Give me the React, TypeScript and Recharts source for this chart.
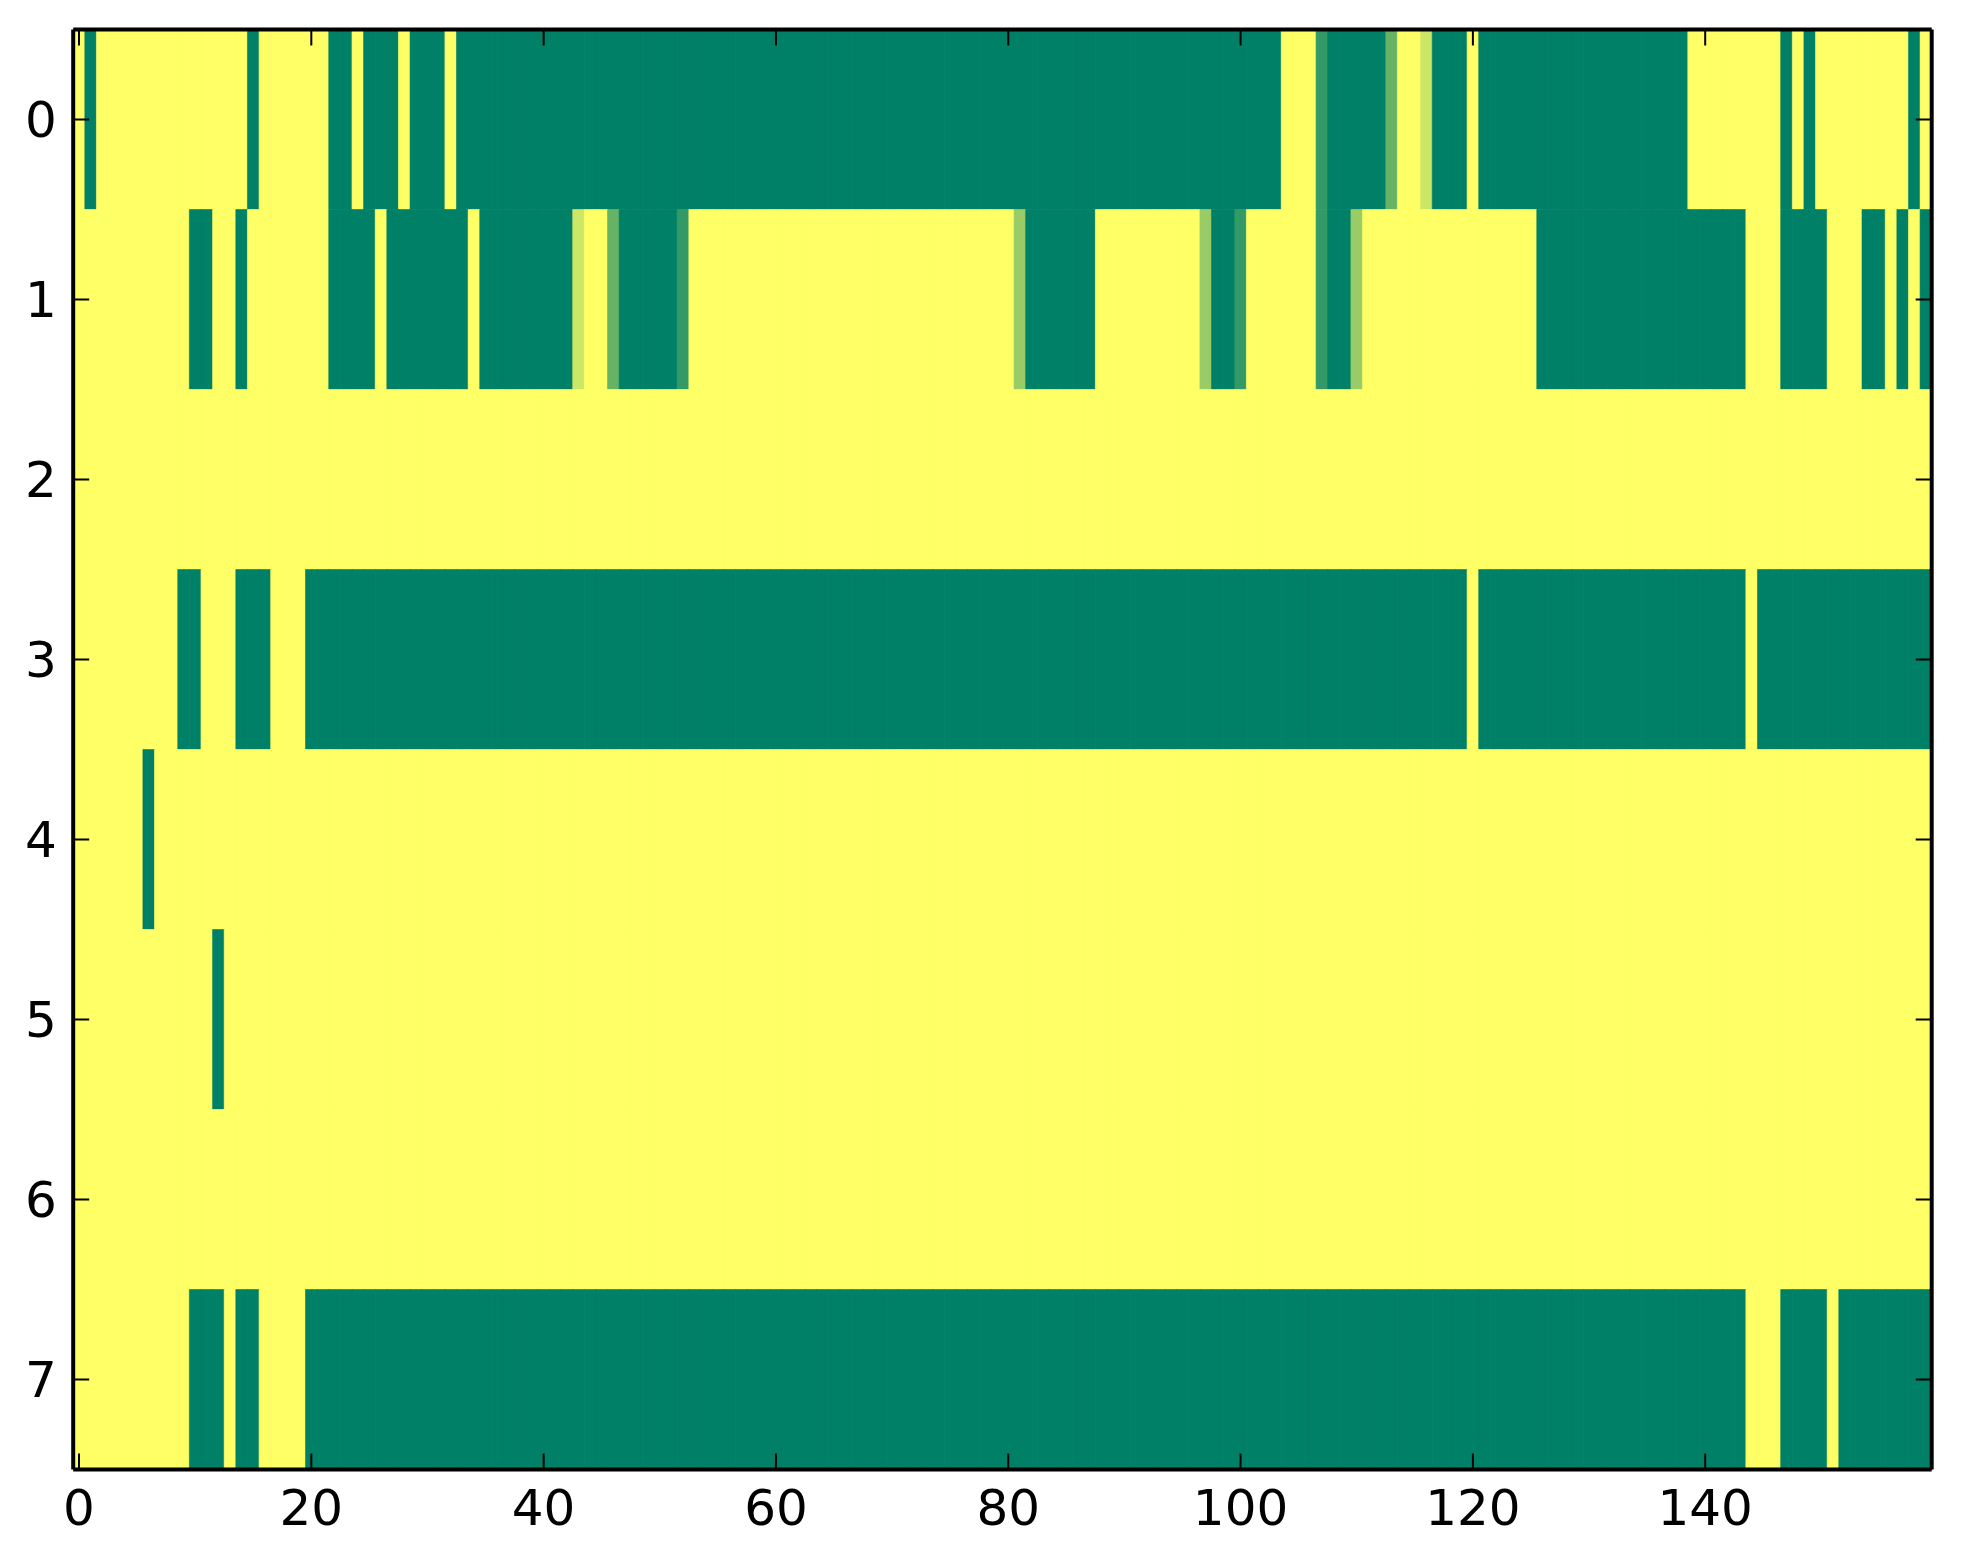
import { BarChart, Bar, XAxis, YAxis, Cell } from "recharts";

// one value per column, 0 = green end of the colormap, 1 = yellow end
const row0 = [
  1, 0, 1, 1, 1, 1, 1, 1, 1, 1, 1, 1, 1, 1, 1, 0, 1, 1, 1, 1,
  1, 1, 0, 0, 1, 0, 0, 0, 1, 0, 0, 0, 1, 0, 0, 0, 0, 0, 0, 0,
  0, 0, 0, 0, 0, 0, 0, 0, 0, 0, 0, 0, 0, 0, 0, 0, 0, 0, 0, 0,
  0, 0, 0, 0, 0, 0, 0, 0, 0, 0, 0, 0, 0, 0, 0, 0, 0, 0, 0, 0,
  0, 0, 0, 0, 0, 0, 0, 0, 0, 0, 0, 0, 0, 0, 0, 0, 0, 0, 0, 0,
  0, 0, 0, 0, 1, 1, 1, 0.2, 0, 0, 0, 0, 0, 0.4, 1, 1, 0.8, 0, 0, 0,
  1, 0, 0, 0, 0, 0, 0, 0, 0, 0, 0, 0, 0, 0, 0, 0, 0, 0, 0, 1,
  1, 1, 1, 1, 1, 1, 1, 0, 1, 0, 1, 1, 1, 1, 1, 1, 1, 1, 0, 1,
];
const row1 = [
  1, 1, 1, 1, 1, 1, 1, 1, 1, 1, 0, 0, 1, 1, 0, 1, 1, 1, 1, 1,
  1, 1, 0, 0, 0, 0, 1, 0, 0, 0, 0, 0, 0, 0, 1, 0, 0, 0, 0, 0,
  0, 0, 0, 0.8, 1, 1, 0.4, 0, 0, 0, 0, 0, 0.2, 1, 1, 1, 1, 1, 1, 1,
  1, 1, 1, 1, 1, 1, 1, 1, 1, 1, 1, 1, 1, 1, 1, 1, 1, 1, 1, 1,
  1, 0.6, 0, 0, 0, 0, 0, 0, 1, 1, 1, 1, 1, 1, 1, 1, 1, 0.6, 0, 0,
  0.2, 1, 1, 1, 1, 1, 1, 0.2, 0, 0, 0.6, 1, 1, 1, 1, 1, 1, 1, 1, 1,
  1, 1, 1, 1, 1, 1, 0, 0, 0, 0, 0, 0, 0, 0, 0, 0, 0, 0, 0, 0,
  0, 0, 0, 0, 1, 1, 1, 0, 0, 0, 0, 1, 1, 1, 0, 0, 1, 0, 1, 0,
];
const row2 = [
  1, 1, 1, 1, 1, 1, 1, 1, 1, 1, 1, 1, 1, 1, 1, 1, 1, 1, 1, 1,
  1, 1, 1, 1, 1, 1, 1, 1, 1, 1, 1, 1, 1, 1, 1, 1, 1, 1, 1, 1,
  1, 1, 1, 1, 1, 1, 1, 1, 1, 1, 1, 1, 1, 1, 1, 1, 1, 1, 1, 1,
  1, 1, 1, 1, 1, 1, 1, 1, 1, 1, 1, 1, 1, 1, 1, 1, 1, 1, 1, 1,
  1, 1, 1, 1, 1, 1, 1, 1, 1, 1, 1, 1, 1, 1, 1, 1, 1, 1, 1, 1,
  1, 1, 1, 1, 1, 1, 1, 1, 1, 1, 1, 1, 1, 1, 1, 1, 1, 1, 1, 1,
  1, 1, 1, 1, 1, 1, 1, 1, 1, 1, 1, 1, 1, 1, 1, 1, 1, 1, 1, 1,
  1, 1, 1, 1, 1, 1, 1, 1, 1, 1, 1, 1, 1, 1, 1, 1, 1, 1, 1, 1,
];
const row3 = [
  1, 1, 1, 1, 1, 1, 1, 1, 1, 0, 0, 1, 1, 1, 0, 0, 0, 1, 1, 1,
  0, 0, 0, 0, 0, 0, 0, 0, 0, 0, 0, 0, 0, 0, 0, 0, 0, 0, 0, 0,
  0, 0, 0, 0, 0, 0, 0, 0, 0, 0, 0, 0, 0, 0, 0, 0, 0, 0, 0, 0,
  0, 0, 0, 0, 0, 0, 0, 0, 0, 0, 0, 0, 0, 0, 0, 0, 0, 0, 0, 0,
  0, 0, 0, 0, 0, 0, 0, 0, 0, 0, 0, 0, 0, 0, 0, 0, 0, 0, 0, 0,
  0, 0, 0, 0, 0, 0, 0, 0, 0, 0, 0, 0, 0, 0, 0, 0, 0, 0, 0, 0,
  1, 0, 0, 0, 0, 0, 0, 0, 0, 0, 0, 0, 0, 0, 0, 0, 0, 0, 0, 0,
  0, 0, 0, 0, 1, 0, 0, 0, 0, 0, 0, 0, 0, 0, 0, 0, 0, 0, 0, 0,
];
const row4 = [
  1, 1, 1, 1, 1, 1, 0, 1, 1, 1, 1, 1, 1, 1, 1, 1, 1, 1, 1, 1,
  1, 1, 1, 1, 1, 1, 1, 1, 1, 1, 1, 1, 1, 1, 1, 1, 1, 1, 1, 1,
  1, 1, 1, 1, 1, 1, 1, 1, 1, 1, 1, 1, 1, 1, 1, 1, 1, 1, 1, 1,
  1, 1, 1, 1, 1, 1, 1, 1, 1, 1, 1, 1, 1, 1, 1, 1, 1, 1, 1, 1,
  1, 1, 1, 1, 1, 1, 1, 1, 1, 1, 1, 1, 1, 1, 1, 1, 1, 1, 1, 1,
  1, 1, 1, 1, 1, 1, 1, 1, 1, 1, 1, 1, 1, 1, 1, 1, 1, 1, 1, 1,
  1, 1, 1, 1, 1, 1, 1, 1, 1, 1, 1, 1, 1, 1, 1, 1, 1, 1, 1, 1,
  1, 1, 1, 1, 1, 1, 1, 1, 1, 1, 1, 1, 1, 1, 1, 1, 1, 1, 1, 1,
];
const row5 = [
  1, 1, 1, 1, 1, 1, 1, 1, 1, 1, 1, 1, 0, 1, 1, 1, 1, 1, 1, 1,
  1, 1, 1, 1, 1, 1, 1, 1, 1, 1, 1, 1, 1, 1, 1, 1, 1, 1, 1, 1,
  1, 1, 1, 1, 1, 1, 1, 1, 1, 1, 1, 1, 1, 1, 1, 1, 1, 1, 1, 1,
  1, 1, 1, 1, 1, 1, 1, 1, 1, 1, 1, 1, 1, 1, 1, 1, 1, 1, 1, 1,
  1, 1, 1, 1, 1, 1, 1, 1, 1, 1, 1, 1, 1, 1, 1, 1, 1, 1, 1, 1,
  1, 1, 1, 1, 1, 1, 1, 1, 1, 1, 1, 1, 1, 1, 1, 1, 1, 1, 1, 1,
  1, 1, 1, 1, 1, 1, 1, 1, 1, 1, 1, 1, 1, 1, 1, 1, 1, 1, 1, 1,
  1, 1, 1, 1, 1, 1, 1, 1, 1, 1, 1, 1, 1, 1, 1, 1, 1, 1, 1, 1,
];
const row6 = [
  1, 1, 1, 1, 1, 1, 1, 1, 1, 1, 1, 1, 1, 1, 1, 1, 1, 1, 1, 1,
  1, 1, 1, 1, 1, 1, 1, 1, 1, 1, 1, 1, 1, 1, 1, 1, 1, 1, 1, 1,
  1, 1, 1, 1, 1, 1, 1, 1, 1, 1, 1, 1, 1, 1, 1, 1, 1, 1, 1, 1,
  1, 1, 1, 1, 1, 1, 1, 1, 1, 1, 1, 1, 1, 1, 1, 1, 1, 1, 1, 1,
  1, 1, 1, 1, 1, 1, 1, 1, 1, 1, 1, 1, 1, 1, 1, 1, 1, 1, 1, 1,
  1, 1, 1, 1, 1, 1, 1, 1, 1, 1, 1, 1, 1, 1, 1, 1, 1, 1, 1, 1,
  1, 1, 1, 1, 1, 1, 1, 1, 1, 1, 1, 1, 1, 1, 1, 1, 1, 1, 1, 1,
  1, 1, 1, 1, 1, 1, 1, 1, 1, 1, 1, 1, 1, 1, 1, 1, 1, 1, 1, 1,
];
const row7 = [
  1, 1, 1, 1, 1, 1, 1, 1, 1, 1, 0, 0, 0, 1, 0, 0, 1, 1, 1, 1,
  0, 0, 0, 0, 0, 0, 0, 0, 0, 0, 0, 0, 0, 0, 0, 0, 0, 0, 0, 0,
  0, 0, 0, 0, 0, 0, 0, 0, 0, 0, 0, 0, 0, 0, 0, 0, 0, 0, 0, 0,
  0, 0, 0, 0, 0, 0, 0, 0, 0, 0, 0, 0, 0, 0, 0, 0, 0, 0, 0, 0,
  0, 0, 0, 0, 0, 0, 0, 0, 0, 0, 0, 0, 0, 0, 0, 0, 0, 0, 0, 0,
  0, 0, 0, 0, 0, 0, 0, 0, 0, 0, 0, 0, 0, 0, 0, 0, 0, 0, 0, 0,
  0, 0, 0, 0, 0, 0, 0, 0, 0, 0, 0, 0, 0, 0, 0, 0, 0, 0, 0, 0,
  0, 0, 0, 0, 1, 1, 1, 0, 0, 0, 0, 1, 0, 0, 0, 0, 0, 0, 0, 0,
];

const rows = [row0, row1, row2, row3, row4, row5, row6, row7];
const rowLabels = [0, 1, 2, 3, 4, 5, 6, 7];
const xTicks = [0, 20, 40, 60, 80, 100, 120, 140];

// matplotlib "summer": green (0) -> yellow (1)
function summer(v: number) {
  const r = Math.round(255 * v);
  const g = Math.round(255 * (0.5 + 0.5 * v));
  return `rgb(${r},${g},102)`;
}

// each column is a category, each row a unit-high stacked segment
const data = row0.map((_, col) => {
  const d: Record<string, number> = { col };
  rowLabels.forEach((r) => {
    d[`r${r}`] = 1;
  });
  return d;
});

const W = 1963;
const H = 1564;
const font = { fill: "#000", fontSize: 50, fontFamily: "DejaVu Sans" };
const tickStyle = { stroke: "#000", strokeWidth: 2 };
const frameStyle = { stroke: "#000", strokeWidth: 4 };
const yTicks = rowLabels.map((r) => r + 0.5);
const noLabel = () => <g />;

// image layer: the cells, no visible axes
function Cells() {
  return (
    <BarChart
      width={W}
      height={H}
      data={data}
      margin={{ top: 29.5, right: 31.3, bottom: 94.5, left: 73.2 }}
      barCategoryGap={0}
      barGap={0}
    >
      <XAxis dataKey="col" type="category" hide />
      <YAxis type="number" domain={[0, 8]} reversed hide />
      {rowLabels.map((r) => (
        <Bar key={r} dataKey={`r${r}`} stackId="grid" isAnimationActive={false}>
          {rows[r].map((v, i) => (
            <Cell key={i} fill={summer(v)} stroke={summer(v)} strokeWidth={0.6} />
          ))}
        </Bar>
      ))}
    </BarChart>
  );
}

// frame layer drawn on top: inward ticks on all four sides
function Frame() {
  return (
    <BarChart
      width={W}
      height={H}
      data={data}
      margin={{ top: 19.5, right: 21.3, bottom: 34.5, left: 13.2 }}
      barCategoryGap={0}
    >
      <XAxis
        dataKey="col"
        type="category"
        ticks={xTicks}
        interval={0}
        height={60}
        tick={font}
        tickSize={-16}
        tickMargin={36}
        tickLine={tickStyle}
        axisLine={frameStyle}
      />
      <XAxis
        xAxisId="top"
        dataKey="col"
        type="category"
        orientation="top"
        ticks={xTicks}
        interval={0}
        height={10}
        tick={noLabel}
        tickSize={-16}
        tickLine={tickStyle}
        axisLine={frameStyle}
      />
      <YAxis
        type="number"
        domain={[0, 8]}
        reversed
        ticks={yTicks}
        tickFormatter={(v: number) => String(v - 0.5)}
        width={60}
        tick={font}
        tickSize={-16}
        tickMargin={32.5}
        tickLine={tickStyle}
        axisLine={frameStyle}
      />
      <YAxis
        yAxisId="right"
        type="number"
        orientation="right"
        domain={[0, 8]}
        reversed
        ticks={yTicks}
        width={10}
        tick={noLabel}
        tickSize={-16}
        tickLine={tickStyle}
        axisLine={frameStyle}
      />
      {/* transparent series so the frame axes get their domains */}
      <Bar dataKey="r0" fill="none" isAnimationActive={false} />
      <Bar dataKey="r0" xAxisId="top" yAxisId="right" fill="none" isAnimationActive={false} />
    </BarChart>
  );
}

export default function App() {
  return (
    <div style={{ position: "absolute", left: 0, top: 0, width: W, height: H, background: "#fff" }}>
      <div style={{ position: "absolute", left: 0, top: 0 }}>
        <Cells />
      </div>
      <div style={{ position: "absolute", left: 0, top: 0 }}>
        <Frame />
      </div>
    </div>
  );
}
